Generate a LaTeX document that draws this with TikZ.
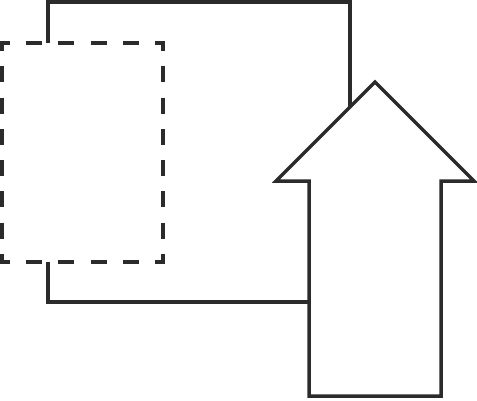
\documentclass[tikz,border=0pt]{standalone}
\begin{document}
\begin{tikzpicture}[x=1pt,y=-1pt,line width=3.5pt]
\definecolor{ink}{HTML}{2B2B2B}
\tikzset{
  outline/.style={draw=ink,line join=miter},
  hdash/.style={draw=ink,dash pattern=on 16pt off 16.2pt,dash phase=6.25pt},
  vdash/.style={draw=ink,dash pattern=on 16pt off 15.29pt,dash phase=6.25pt}
}
\useasboundingbox (0,0) rectangle (477,400);
% solid square
\draw[outline] (48,2) rectangle (350,302);
% dashed rectangle
\fill[white] (2,43) rectangle (163,262);
\path[hdash] (0.25,43) -- (164.75,43);
\path[hdash] (0.25,262) -- (164.75,262);
\path[vdash] (2,41.25) -- (2,263.75);
\path[vdash] (163,41.25) -- (163,263.75);
% arrow
\filldraw[outline,fill=white] (375,82) -- (474,181) -- (441,181) -- (441,396)
  -- (309,396) -- (309,181) -- (276,181) -- cycle;
\end{tikzpicture}
\end{document}
